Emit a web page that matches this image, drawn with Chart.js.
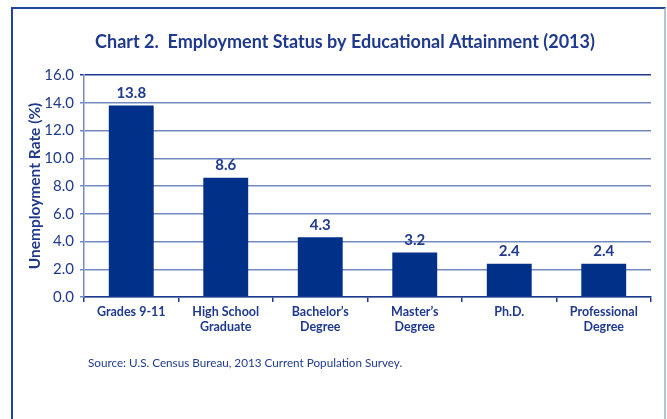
<!DOCTYPE html>
<html>
<head>
<meta charset="utf-8">
<script src="https://cdn.jsdelivr.net/npm/chart.js@4.4.0/dist/chart.umd.min.js"></script>
<style>
  html, body { margin: 0; padding: 0; background: #fff; }
  #wrap { position: relative; width: 667px; height: 419px; overflow: hidden; }
  #frame {
    position: absolute; left: 11px; top: 7px; width: 651px; height: 440px;
    border-left: 2px solid #23449c; border-top: 2px solid #23449c; border-right: 2px solid #b4c1e3;
  }
  canvas { position: absolute; left: 0; top: 0; }
</style>
</head>
<body>
<div id="wrap">
  <div id="frame"></div>
  <canvas id="chart" width="667" height="419"></canvas>
</div>
<script>
// data
const categories = [
  ["Grades 9-11"],
  ["High School", "Graduate"],
  ["Bachelor\u2019s", "Degree"],
  ["Master\u2019s", "Degree"],
  ["Ph.D."],
  ["Professional", "Degree"],
];
const rates = [13.8, 8.6, 4.3, 3.2, 2.4, 2.4];
const yMin = 0;
const yMax = 16;
const yStep = 2;

const titleText = "Chart 2.  Employment Status by Educational Attainment (2013)";
const sourceText = "Source: U.S. Census Bureau, 2013 Current Population Survey.";

const navy = "#1f3a8c";
const barColor = "#003087";
const gridColor = "#7489c0";
const fontFamily = "Lato, 'Open Sans', sans-serif";

Chart.defaults.font.family = fontFamily;
Chart.defaults.color = navy;

// value labels above bars + title and source text
const labelsPlugin = {
  id: "labels",
  afterDatasetsDraw(chart) {
    const ctx = chart.ctx;
    const meta = chart.getDatasetMeta(0);
    ctx.save();
    ctx.fillStyle = navy;
    ctx.font = "bold 15px " + fontFamily;
    ctx.textAlign = "center";
    ctx.textBaseline = "bottom";
    meta.data.forEach((bar, i) => {
      ctx.fillText(rates[i].toFixed(1), bar.x, bar.y - 5);
    });
    ctx.restore();
  },
  afterDraw(chart) {
    const ctx = chart.ctx;
    ctx.save();
    ctx.fillStyle = navy;
    ctx.textBaseline = "middle";
    ctx.textAlign = "center";
    ctx.font = "bold 18px " + fontFamily;
    ctx.fillText(titleText, 345, 42);
    ctx.textAlign = "left";
    ctx.font = "11.7px " + fontFamily;
    ctx.fillText(sourceText, 88, 363);
    ctx.restore();
  },
};

const chart = new Chart(document.getElementById("chart").getContext("2d"), {
  type: "bar",
  data: {
    labels: categories,
    datasets: [
      {
        data: rates,
        backgroundColor: barColor,
        borderWidth: 0,
        barPercentage: 0.475,
        categoryPercentage: 1,
      },
    ],
  },
  options: {
    responsive: false,
    animation: false,
    layout: {
      padding: { left: 26, right: 16, top: 75, bottom: 82 },
    },
    plugins: {
      legend: { display: false },
      tooltip: { enabled: false },
    },
    scales: {
      x: {
        afterFit(scale) {
          scale.height = 40;
        },
        grid: {
          drawOnChartArea: true,
          color: (c) => (c.index === categories.length ? navy : "rgba(0,0,0,0)"),
          tickColor: navy,
          tickLength: 5,
          lineWidth: 1.5,
        },
        border: { color: navy, width: 1.5 },
        ticks: {
          color: navy,
          padding: 3,
          maxRotation: 0,
          font: { size: 12.5, weight: "bold", lineHeight: 1.15 },
        },
      },
      y: {
        min: yMin,
        max: yMax,
        afterFit(scale) {
          scale.width = 58;
        },
        grid: {
          color: (c) => (c.tick && c.tick.value === yMax ? navy : gridColor),
          lineWidth: 1.5,
          tickLength: 4,
        },
        border: { color: gridColor, width: 1.5 },
        ticks: {
          stepSize: yStep,
          color: navy,
          padding: 6,
          font: { size: 15 },
          callback: function (value) {
            return value.toFixed(1);
          },
        },
        title: {
          display: true,
          text: "Unemployment Rate (%)",
          color: navy,
          padding: { top: 0, bottom: 0 },
          font: { size: 15.5, weight: "bold", lineHeight: 1.2 },
        },
      },
    },
  },
  plugins: [labelsPlugin],
});
</script>
</body>
</html>
